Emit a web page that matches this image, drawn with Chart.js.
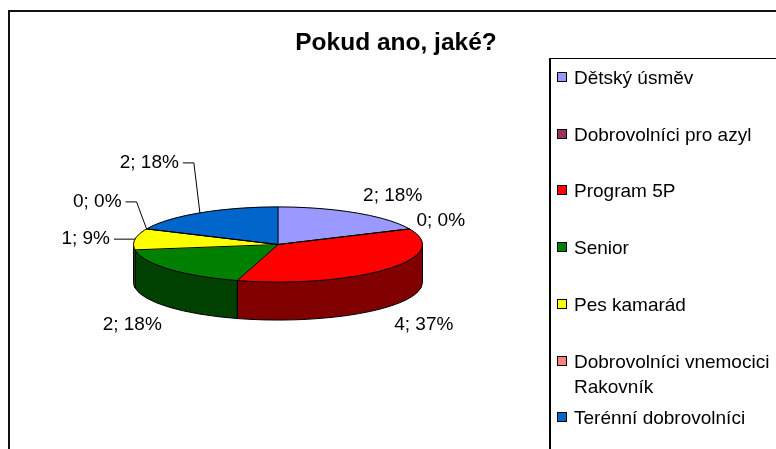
<!DOCTYPE html>
<html>
<head>
<meta charset="utf-8">
<script src="https://cdn.jsdelivr.net/npm/chart.js@4.4.0/dist/chart.umd.min.js"></script>
<style>
  body { margin: 0; background: #fff; font-family: "Liberation Sans", Arial, sans-serif; }
  #wrap { position: relative; width: 776px; height: 449px; overflow: hidden; }
  #frame { position: absolute; left: 8px; top: 10px; width: 900px; height: 600px;
           border-left: 2px solid #111; border-top: 2px solid #111; }
  #title { position: absolute; left: 0; width: 792px; top: 28px; line-height: 28px;
           text-align: center; font-weight: bold; font-size: 24.5px; color: #000; }
  #legendBox { position: absolute; left: 549px; top: 58px; width: 400px; height: 500px;
               border-left: 2px solid #000; border-top: 1px solid #000; }
  .item { position: absolute; left: 23px; width: 200px; font-size: 19px; line-height: 25px; color: #000; }
  .sw { position: absolute; left: -17px; top: 7px; width: 8px; height: 8px; border: 1px solid #000; }
  canvas { position: absolute; left: 0; top: 0; }
</style>
</head>
<body>
<div id="wrap">
  <div id="frame"></div>
  <canvas id="pieChart" width="776" height="449"></canvas>
  <div id="title">Pokud ano, jaké?</div>
  <div id="legendBox"></div>
</div>
<script>
const categories = ['Dětský úsměv', 'Dobrovolníci pro azyl', 'Program 5P', 'Senior',
                    'Pes kamarád', 'Dobrovolníci vnemocici Rakovník', 'Terénní dobrovolníci'];
const counts = [2, 0, 4, 2, 1, 0, 2];
const percents = [18, 0, 37, 18, 9, 0, 18];
const topColors = ['#9999FF', '#993366', '#FF0000', '#008000', '#FFFF00', '#FF8080', '#0066CC'];
const sideColors = ['#4C4C80', '#4C1933', '#800000', '#004000', '#808000', '#804040', '#003366'];

// fake 3d pie: squash the library's arcs and draw the walls under them
const pie3d = {
    id: 'pie3d',
    beforeDatasetsDraw(chart, args, opts) {
        const ctx = chart.ctx;
        const arcs = chart.getDatasetMeta(0).data;
        const cx = arcs[0].x, cy = arcs[0].y;
        const rx = arcs[0].outerRadius, ry = rx * opts.tilt, d = opts.depth;
        ctx.save();
        ctx.lineWidth = 1;
        ctx.strokeStyle = '#000';
        arcs.forEach((arc, i) => {
            const s = Math.max(arc.startAngle, 0), e = Math.min(arc.endAngle, Math.PI);
            if (e <= s) return;
            ctx.beginPath();
            ctx.ellipse(cx, cy, rx, ry, 0, s, e);
            ctx.ellipse(cx, cy + d, rx, ry, 0, e, s, true);
            ctx.closePath();
            ctx.fillStyle = opts.sideColors[i];
            ctx.fill();
            ctx.stroke();
        });
        ctx.restore();
        ctx.save();
        ctx.translate(cx, cy);
        ctx.scale(1, opts.tilt);
        ctx.translate(-cx, -cy);
    },
    afterDatasetsDraw(chart, args, opts) {
        const ctx = chart.ctx;
        ctx.restore();
        const arcs = chart.getDatasetMeta(0).data;
        const cx = arcs[0].x, cy = arcs[0].y;
        const rx = arcs[0].outerRadius, ry = rx * opts.tilt, d = opts.depth;
        ctx.save();
        ctx.lineWidth = 1;
        ctx.strokeStyle = '#000';
        ctx.beginPath();
        ctx.ellipse(cx, cy, rx, ry, 0, 0, Math.PI * 2);
        ctx.stroke();
        arcs.forEach(arc => {
            const t = arc.startAngle;
            ctx.beginPath();
            ctx.moveTo(cx, cy);
            ctx.lineTo(cx + rx * Math.cos(t), cy + ry * Math.sin(t));
            ctx.stroke();
        });

        // data labels
        ctx.fillStyle = '#000';
        ctx.font = '19px "Liberation Sans", Arial, sans-serif';
        ctx.textBaseline = 'middle';
        arcs.forEach((arc, i) => {
            const t = (arc.startAngle + arc.endAngle) / 2;
            const c = Math.cos(t), s = Math.sin(t);
            const px = cx + rx * c, py = cy + ry * s + (s > 0 ? d : 0);
            const txt = counts[i] + '; ' + percents[i] + '%';
            const lead = opts.leaders[i];
            if (lead) {
                const lx = px + lead[0], ly = py + lead[1];
                ctx.textAlign = 'right';
                ctx.fillText(txt, lx, ly);
                ctx.beginPath();
                ctx.moveTo(lx + 4, ly);
                ctx.lineTo(lx + 15, ly);
                ctx.lineTo(px, py);
                ctx.stroke();
            } else {
                ctx.textAlign = c >= 0 ? 'left' : 'right';
                ctx.fillText(txt, px + (c >= 0 ? 7 : -7), py + 20 * s + (s > 0 ? 5 : 0));
            }
        });
        ctx.restore();
    }
};

const ctx = document.getElementById('pieChart').getContext('2d');
const chart = new Chart(ctx, {
    type: 'pie',
    data: {
        labels: categories,
        datasets: [{
            data: counts,
            backgroundColor: topColors,
            borderColor: topColors,
            borderWidth: 1,
            hoverOffset: 0
        }]
    },
    options: {
        responsive: false,
        animation: false,
        events: [],
        devicePixelRatio: 1,
        radius: 144.5,
        layout: { padding: { left: 0, right: 220, top: 40, bottom: 0 } },
        plugins: {
            legend: { display: false },
            tooltip: { enabled: false },
            title: { display: false },
            pie3d: {
                tilt: 0.26,
                depth: 38,
                sideColors: sideColors,
                leaders: { 4: [-25, 0], 5: [-25, -27], 6: [-21, -50] }
            }
        }
    },
    plugins: [pie3d]
});

// legend built from the chart's labels and colours
const box = document.getElementById('legendBox');
chart.data.labels.forEach((lbl, i) => {
    const item = document.createElement('div');
    item.className = 'item';
    item.style.top = (6 + i * 56.7) + 'px';
    const sw = document.createElement('span');
    sw.className = 'sw';
    sw.style.background = chart.data.datasets[0].backgroundColor[i];
    item.appendChild(sw);
    item.appendChild(document.createTextNode(lbl));
    box.appendChild(item);
});
</script>
</body>
</html>
